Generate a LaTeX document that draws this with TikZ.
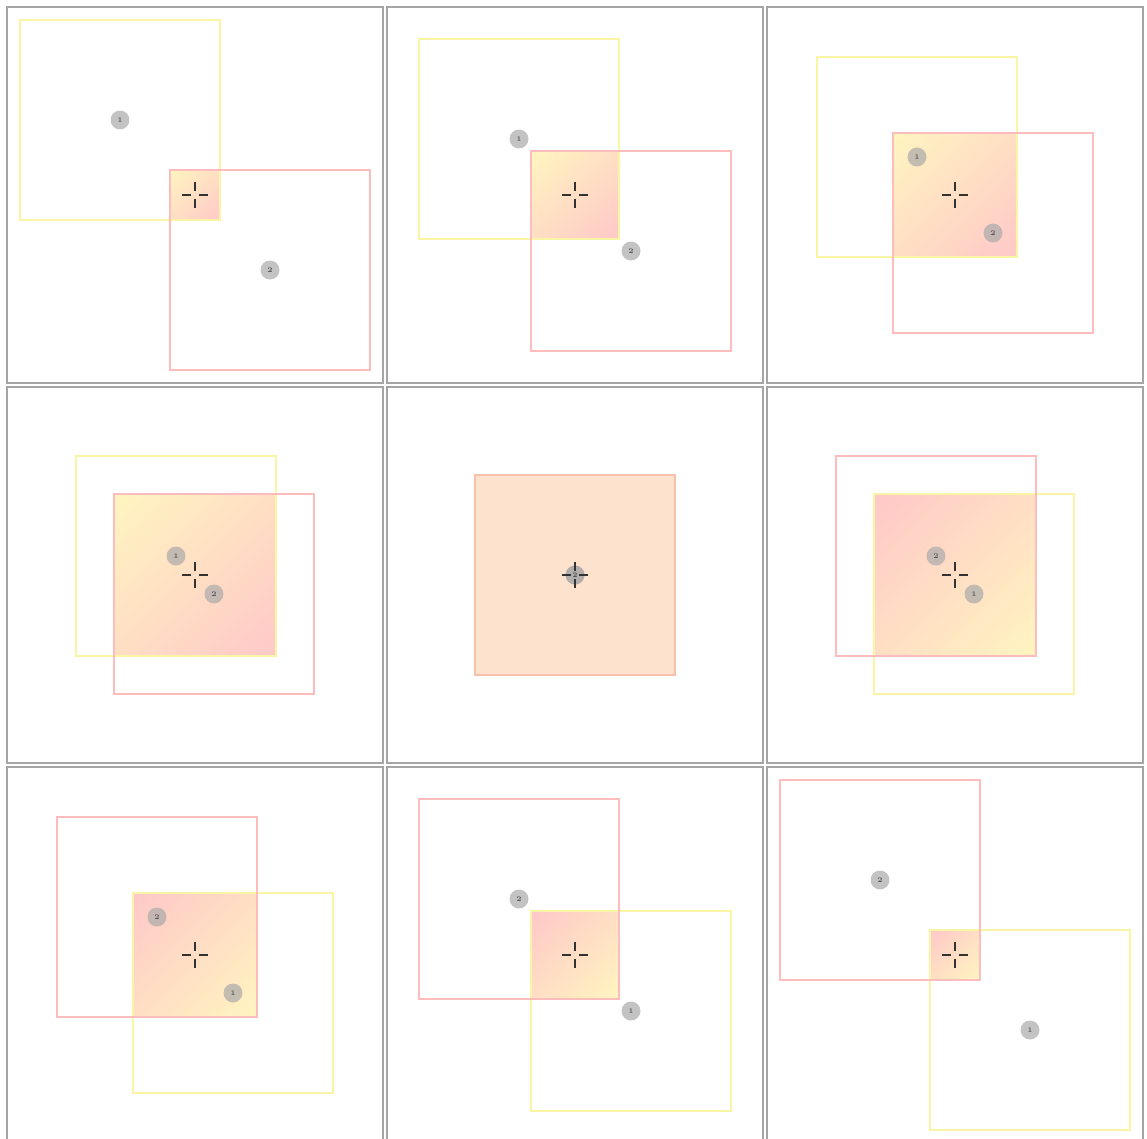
\documentclass[tikz,border=0pt]{standalone}
\usepackage{xcolor}
\definecolor{sqyellow}{RGB}{250,244,165}
\definecolor{sqpink}{RGB}{255,188,188}
\definecolor{fillyellow}{RGB}{255,245,192}
\definecolor{fillpink}{RGB}{255,200,200}
\definecolor{peach}{RGB}{253,226,206}
\definecolor{peachedge}{RGB}{249,194,168}
\definecolor{markgray}{RGB}{170,170,170}
\definecolor{framegray}{RGB}{165,165,165}
\definecolor{crossgray}{RGB}{50,50,50}
\usetikzlibrary{calc,shadings}
\tikzset{
  panel/.style={draw=framegray, line width=1.2pt},
  sqone/.style={draw=sqyellow, line width=0.9pt},
  sqtwo/.style={draw=sqpink, line width=0.9pt},
  overlap/.style={upper left=#1, upper right=fillyellow!50!fillpink,
                  lower left=fillyellow!50!fillpink},
  marker/.style={circle, fill=markgray, fill opacity=0.7, text opacity=1,
                 minimum size=0.38cm, inner sep=0pt,
                 font=\fontsize{4}{4}\selectfont\bfseries, text=black!65},
  hair/.style={draw=crossgray, line width=1pt},
}

\begin{document}
\begin{tikzpicture}[x=0.02cm, y=-0.02cm]
\useasboundingbox (0,0) rectangle (1147,1139);
\clip (0,0) rectangle (1147,1139);
% one panel per step, square 1 moves from upper left to lower right
\foreach \col/\row/\d [count=\k] in {0/0/75, 1/0/56, 2/0/38,
                                    0/1/19, 1/1/0, 2/1/-19,
                                    0/2/-38, 1/2/-56, 2/2/-75}{
  \coordinate (c\k) at (195+380*\col, 195+380*\row);
  \coordinate (s1-\k) at ($(c\k)+({-1*(\d)},{-1*(\d)})$);
  \coordinate (s2-\k) at ($(c\k)+({\d},{\d})$);
  \draw[panel] ($(c\k)+(-188,-188)$) rectangle ($(c\k)+(188,188)$);
  \pgfmathsetmacro{\a}{100-abs(\d)}
  \ifdim \d pt=0pt
    % full overlap
    \fill[peach] ($(c\k)+(-100,-100)$) rectangle ($(c\k)+(100,100)$);
    \draw[peachedge, line width=0.9pt] ($(c\k)+(-100,-100)$) rectangle ($(c\k)+(100,100)$);
  \else
    \ifdim \d pt>0pt
      \def\ulcolor{fillyellow}\def\lrcolor{fillpink}
    \else
      \def\ulcolor{fillpink}\def\lrcolor{fillyellow}
    \fi
    \shade[overlap=\ulcolor, lower right=\lrcolor]
      ($(c\k)+(-\a,-\a)$) rectangle ($(c\k)+(\a,\a)$);
    \draw[sqone] ($(s1-\k)+(-100,-100)$) rectangle ($(s1-\k)+(100,100)$);
    \draw[sqtwo] ($(s2-\k)+(-100,-100)$) rectangle ($(s2-\k)+(100,100)$);
  \fi
  % markers at the square centres
  \node[marker] (m1-\k) at (s1-\k) {1};
  \node[marker] (m2-\k) at (s2-\k) {2};
  % crosshair
  \draw[hair] ($(c\k)+(4,0)$) -- ($(c\k)+(13,0)$)
              ($(c\k)+(-4,0)$) -- ($(c\k)+(-13,0)$)
              ($(c\k)+(0,4)$) -- ($(c\k)+(0,13)$)
              ($(c\k)+(0,-4)$) -- ($(c\k)+(0,-13)$);
}
\end{tikzpicture}
\end{document}
